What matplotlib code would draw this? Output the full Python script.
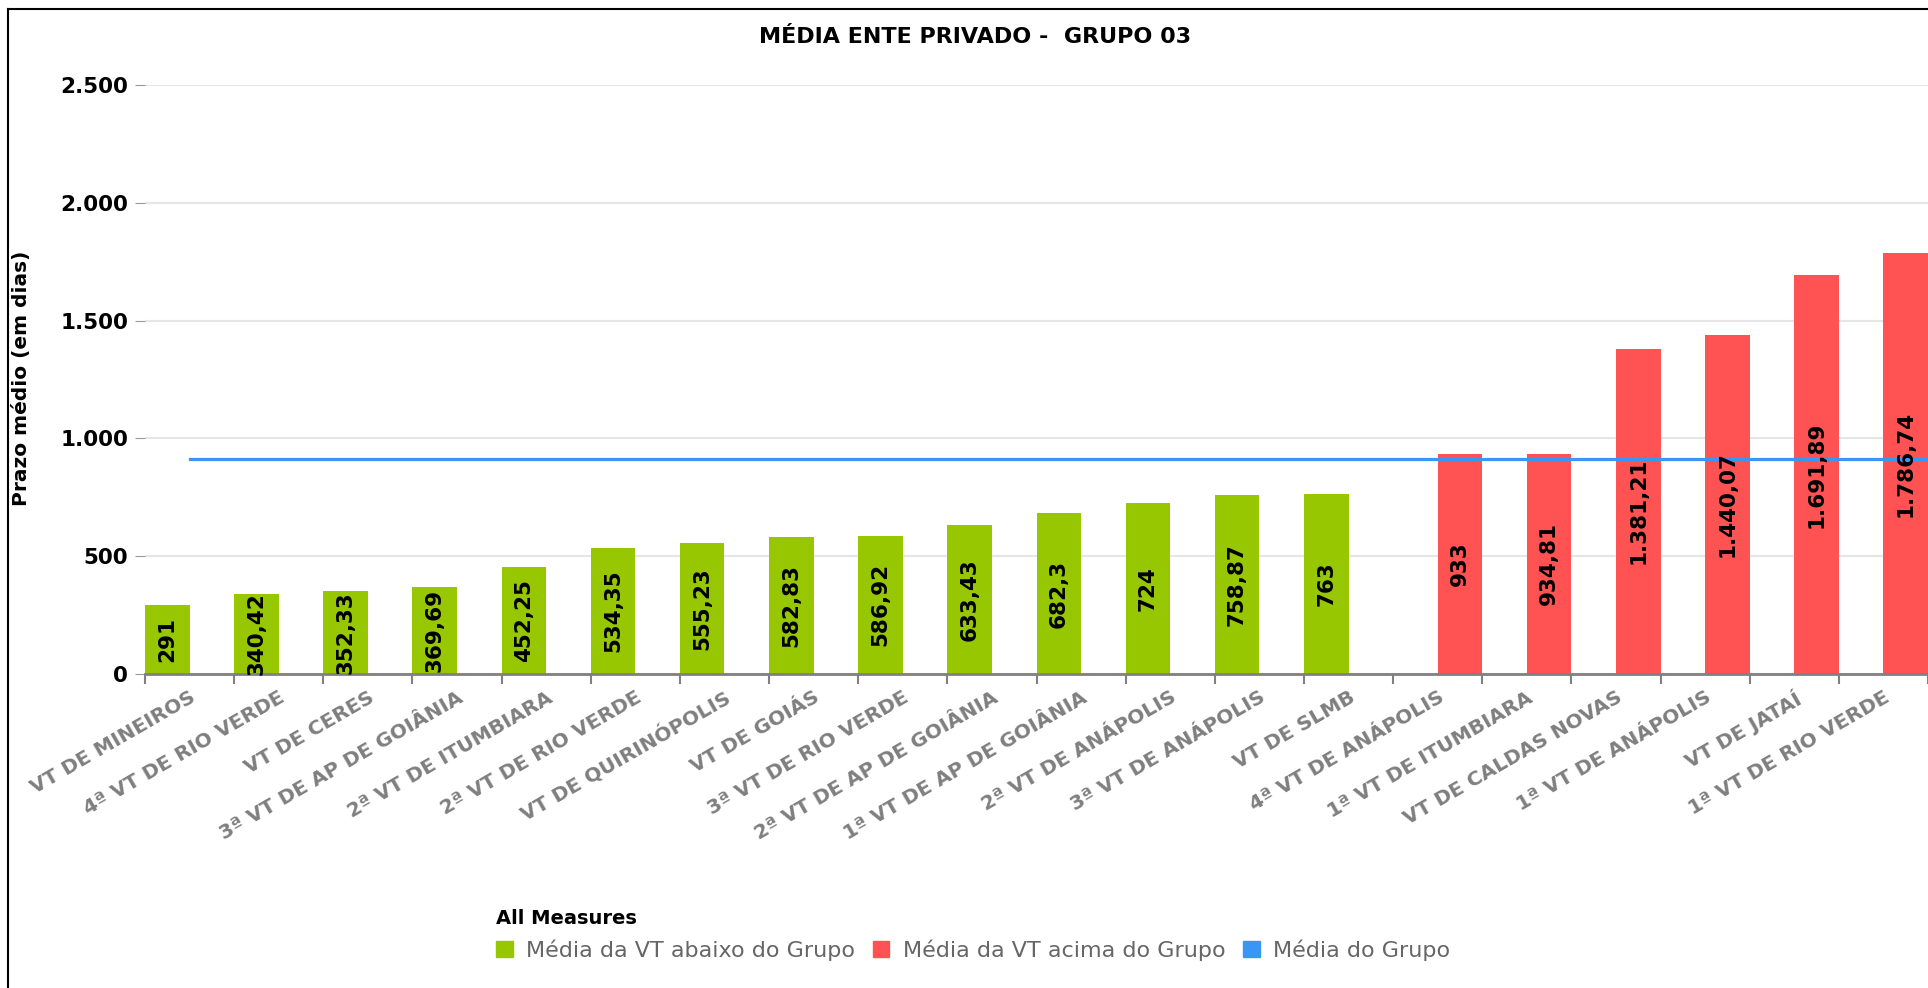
import numpy as np
import matplotlib
matplotlib.use("Agg")
import matplotlib.pyplot as plt
from matplotlib.patches import Patch
from matplotlib.lines import Line2D

# dados do grafico
categorias = [
    "VT DE MINEIROS", "4ª VT DE RIO VERDE", "VT DE CERES", "3ª VT DE AP DE GOIÂNIA",
    "2ª VT DE ITUMBIARA", "2ª VT DE RIO VERDE", "VT DE QUIRINÓPOLIS", "VT DE GOIÁS",
    "3ª VT DE RIO VERDE", "2ª VT DE AP DE GOIÂNIA", "1ª VT DE AP DE GOIÂNIA",
    "2ª VT DE ANÁPOLIS", "3ª VT DE ANÁPOLIS", "VT DE SLMB", "4ª VT DE ANÁPOLIS",
    "1ª VT DE ITUMBIARA", "VT DE CALDAS NOVAS", "1ª VT DE ANÁPOLIS", "VT DE JATAÍ",
    "1ª VT DE RIO VERDE",
]
abaixo = [291, 340.42, 352.33, 369.69, 452.25, 534.35, 555.23, 582.83,
          586.92, 633.43, 682.3, 724, 758.87, 763]
acima = [933, 934.81, 1381.21, 1440.07, 1691.89, 1786.74]
media_grupo = 912

series_nomes = ["Média da VT abaixo do Grupo", "Média da VT acima do Grupo", "Média do Grupo"]
cores = ["#97c700", "#ff5252", "#3a96f5"]


def fmt_br(v):
    s = f"{v:,.2f}".rstrip("0").rstrip(".")
    return s.translate(str.maketrans({",": ".", ".": ","}))


W, H = 1928, 988
fig = plt.figure(figsize=(W / 100, H / 100), dpi=100)
ax = fig.add_axes([145 / W, 1 - 674 / H, (W - 145) / W, (674 - 85) / H])

x = np.arange(len(categorias))
x_abaixo = x[:len(abaixo)]
x_acima = x[len(abaixo):]

b1 = ax.bar(x_abaixo - 0.25, abaixo, width=0.5, color=cores[0], zorder=2)
b2 = ax.bar(x_acima + 0.25, acima, width=0.5, color=cores[1], zorder=2)
for cont, vals in [(b1, abaixo), (b2, acima)]:
    txts = ax.bar_label(cont, labels=[fmt_br(v) for v in vals], label_type="center",
                        rotation=90, fontsize=15.5, fontweight="bold", color="black")
    for t in txts:
        t.set_zorder(5)

xl = np.arange(len(categorias) + 1)
ax.plot(xl, np.full(len(xl), media_grupo), color=cores[2], lw=2.3, zorder=3)

ax.set_xlim(-0.5, -0.5 + (W - 145) / 90.08)
ax.set_ylim(0, 2500)

# eixo y
yt = np.arange(0, 2501, 500)
ax.set_yticks(yt)
ax.set_yticklabels([fmt_br(v) for v in yt], fontsize=15.5, fontweight="bold")
ax.tick_params(axis="y", length=7, color="#999999", pad=5)
ax.yaxis.grid(True, color="#e6e6e6", lw=1.5, zorder=0)
ax.set_axisbelow(True)

# eixo x
ax.set_xticks(x)
ax.set_xticklabels(categorias, rotation=30, ha="right", va="top",
                   rotation_mode="anchor", fontsize=14.5, fontweight="bold", color="#7f7f7f")
ax.set_xticks(np.arange(len(categorias) + 1) - 0.5, minor=True)
ax.tick_params(axis="x", which="major", length=0, pad=10)
ax.tick_params(axis="x", which="minor", length=7, color="#808080", width=1.5)

for s in ["top", "right", "left"]:
    ax.spines[s].set_visible(False)
ax.spines["bottom"].set_color("#808080")
ax.spines["bottom"].set_linewidth(2)

fig.text(975 / W, 1 - 37 / H, "MÉDIA ENTE PRIVADO -  GRUPO 03", ha="center", va="center",
         fontsize=16, fontweight="bold")
fig.text(22 / W, 1 - 378 / H, "Prazo médio (em dias)", rotation=90, ha="center",
         va="center", fontsize=14.5, fontweight="bold")

handles = [Patch(color=c) for c in cores]
leg = fig.legend(handles, series_nomes, ncol=3, loc="upper left",
                 bbox_to_anchor=(476 / W, 1 - 889 / H), frameon=False,
                 title="All Measures", alignment="left", fontsize=16,
                 title_fontproperties={"weight": "bold", "size": 14},
                 handlelength=0.75, handleheight=0.75, handletextpad=0.6,
                 columnspacing=0.8)
for t in leg.get_texts():
    t.set_color("#666666")

# moldura
fig.add_artist(Line2D([8 / W, 8 / W], [0, 1 - 9 / H], color="black", lw=1.5))
fig.add_artist(Line2D([8 / W, 1], [1 - 9 / H, 1 - 9 / H], color="black", lw=1.5))

fig.savefig("out.png", dpi=100)
